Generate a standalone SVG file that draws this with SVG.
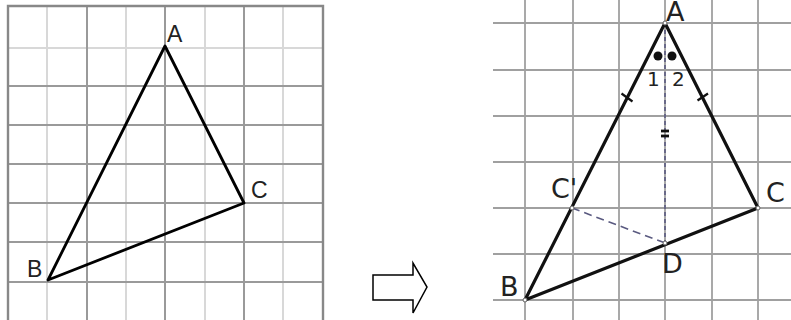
<svg xmlns="http://www.w3.org/2000/svg" width="791" height="320" viewBox="0 0 791 320">
<style>
.gd{stroke:#9a9a9a;stroke-width:2;fill:none}
.gl{stroke:#d8d8d8;stroke-width:2;fill:none}
.gr{stroke:#a0a0a0;stroke-width:1.8;fill:none}
.tri{stroke:#000;stroke-width:2.8;fill:none;stroke-linejoin:round}
.tri2{stroke:#111;stroke-width:3.2;fill:none;stroke-linejoin:round}
.lblL{font-family:"Liberation Sans",Arial,sans-serif;font-size:23px;fill:#222}
.lblR{font-family:"DejaVu Sans",sans-serif;font-size:27px;fill:#222}
.num{font-family:"DejaVu Sans",sans-serif;font-size:20px;fill:#222}
.pt{fill:#fff;stroke:#666;stroke-width:1}
</style>
<rect width="791" height="320" fill="#fff"/>
<g id="grid-left">
<path class="gl" d="M47 6V320M126 6V320M205 6V320M283 6V320M8 48H323"/>
<path class="gd" d="M87 6V320M165 6V320M244 6V320M8 86H323M8 125H323M8 164H323M8 203H323M8 242H323M8 282H323"/>
<path d="M8 320V6H323V320" stroke="#888" stroke-width="2.4" fill="none"/>
</g>
<g id="triangle-left">
<polygon class="tri" points="165,46 244,203 48,280"/>
<text class="lblL" x="167" y="42">A</text>
<text class="lblL" x="251" y="198">C</text>
<text class="lblL" x="27" y="277">B</text>
</g>
<g id="arrow">
<polygon points="373,275 413,275 413,263 427,287 413,313 413,300 373,300" fill="#fff" stroke="#000" stroke-width="1.5"/>
</g>
<g id="grid-right">
<path class="gr" d="M525 0V320M573 0V320M619 0V320M665 0V320M712 0V320M758 0V320M493 23H791M493 70H791M493 116H791M493 162H791M493 208H791M493 254H791M493 300H791"/>
</g>
<g id="connectors">
<line x1="665" y1="23" x2="665" y2="243" stroke="#5a5a80" stroke-width="1.6" stroke-dasharray="4,3"/>
<line x1="572" y1="208" x2="665" y2="243" stroke="#5a5a80" stroke-width="1.6" stroke-dasharray="8,5"/>
</g>
<g id="triangle-right">
<polygon class="tri2" points="665,23 758,208 525,300"/>
<line x1="621.5" y1="93.5" x2="632.5" y2="101.5" stroke="#111" stroke-width="2.2"/>
<line x1="697.5" y1="100.5" x2="708" y2="93.5" stroke="#111" stroke-width="2.2"/>
<line x1="661" y1="131" x2="669" y2="131" stroke="#111" stroke-width="2.8"/>
<line x1="661" y1="136" x2="669" y2="136" stroke="#111" stroke-width="2.8"/>
<circle cx="658" cy="56" r="4.5" fill="#111"/>
<circle cx="672" cy="56" r="4.5" fill="#111"/>
<text class="num" x="647" y="86">1</text>
<text class="num" x="672" y="86">2</text>
</g>
<g id="points-right">
<circle class="pt" cx="665" cy="23" r="2"/>
<circle class="pt" cx="758" cy="208" r="2"/>
<circle class="pt" cx="525" cy="300" r="2"/>
<circle class="pt" cx="572" cy="208" r="2"/>
<circle class="pt" cx="665" cy="243" r="2"/>
<text class="lblR" x="666" y="21">A</text>
<text class="lblR" x="551" y="198">C'</text>
<text class="lblR" x="766" y="202">C</text>
<text class="lblR" x="662" y="273">D</text>
<text class="lblR" x="500" y="296">B</text>
</g>
</svg>
